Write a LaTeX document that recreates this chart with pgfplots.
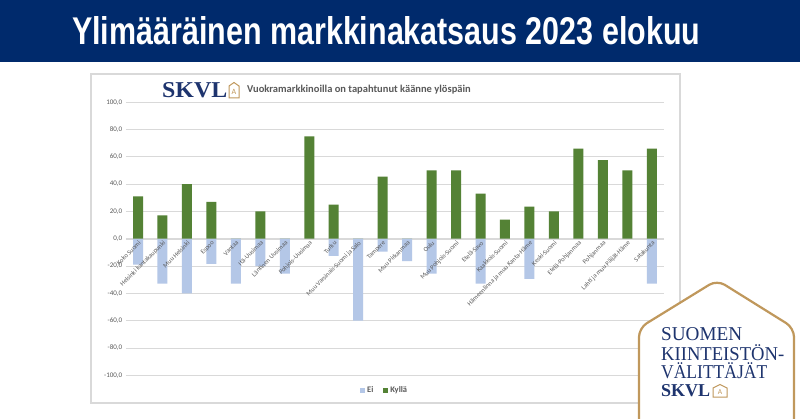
\documentclass[border=0pt]{standalone}
\usepackage{fontspec}
\setmainfont{Carlito}
\newfontfamily\bannerfont{Liberation Sans}
\newfontfamily\seriffont{Liberation Serif}
\usepackage{graphicx}
\usepackage{pgfplots}
\pgfplotsset{compat=1.18}
\definecolor{navy}{RGB}{0,42,108}
\definecolor{logonavy}{RGB}{30,52,110}
\definecolor{tan}{RGB}{192,152,92}
\definecolor{kyl}{RGB}{84,130,53}
\definecolor{ei}{RGB}{180,199,231}
\definecolor{txtgray}{RGB}{89,89,89}
\definecolor{gridgray}{RGB}{217,217,217}

\pgfplotsset{common/.style={
  at={(138pt,179.3pt)}, anchor=origin,
  scale only axis, width=538.25pt, height=273pt,
  xmin=-0.5, xmax=21.5, ymin=-100, ymax=100,
  major tick length=0pt,
}}

\begin{document}
\begin{tikzpicture}[x=1pt,y=1pt]
\useasboundingbox (0,0) rectangle (800,418);
\fill[white] (0,0) rectangle (800,418);
% banner
\fill[navy] (0,356) rectangle (800,418);
\node[anchor=south west, inner sep=0, text=white] at (72,373)
  {\resizebox{628pt}{28pt}{\bannerfont\bfseries Ylimääräinen markkinakatsaus 2023 elokuu}};
% chart frame
\draw[gridgray, line width=1.2pt] (91,15) rectangle (680,344);
% chart logo and title
\node[anchor=south west, inner sep=0, text=logonavy] at (162,320)
  {\resizebox{65pt}{15pt}{\seriffont\bfseries SKVL}};
\draw[tan, line width=1pt] (229,320) -- (229,332) -- (234,335.5) -- (239,332) -- (239,320) -- cycle;
\node[text=tan, inner sep=0, font=\fontsize{8}{9}\selectfont] at (234,326) {A};
\node[anchor=west, inner sep=0, text=txtgray, font=\fontsize{10.5}{12}\selectfont\bfseries] at (247,328)
  {Vuokramarkkinoilla on tapahtunut käänne ylöspäin};

\begin{axis}[
  common,
  axis x line=middle, axis y line=left,
  x axis line style={-, draw=gridgray},
  y axis line style={-, draw=none},
  ybar,
  ytick={-100,-80,-60,-40,-20,0,20,40,60,80,100},
  ymajorgrids, grid style={gridgray, line width=0.6pt},
  xtick=\empty,
  yticklabel style={font=\fontsize{7}{8}\selectfont, text=txtgray},
  /pgf/number format/fixed, /pgf/number format/fixed zerofill,
  /pgf/number format/precision=1, /pgf/number format/use comma,
  /pgf/number format/assume math mode=true,
  legend style={at={(0.481,-0.055)}, anchor=center, draw=none, fill=none,
    legend columns=2, font=\fontsize{8.5}{9}\selectfont\bfseries, text=txtgray,
    /tikz/every even column/.append style={column sep=8pt}},
  legend image code/.code={\fill[#1] (0pt,-2.5pt) rectangle (5pt,2.5pt);},
]
\addplot[fill=ei, draw=none, bar width=10pt, bar shift=0pt] coordinates {
(0,-19) (1,-33) (2,-40) (3,-18.5) (4,-33) (5,-20) (6,-25.5) (7,0) (8,-12.5) (9,-60) (10,-9.5)
(11,-16.5) (12,-25.5) (13,0) (14,-33) (15,0) (16,-29.5) (17,0) (18,0) (19,0) (20,0) (21,-33)};
\addplot[fill=kyl, draw=none, bar width=10pt, bar shift=0pt] coordinates {
(0,31) (1,17) (2,40) (3,27) (4,0) (5,20) (6,0) (7,75) (8,25) (9,0) (10,45.5)
(11,0) (12,50) (13,50) (14,33) (15,14) (16,23.5) (17,20) (18,66) (19,57.5) (20,50) (21,66)};
\legend{Ei, Kyllä}
\end{axis}

% category labels on top of the bars
\begin{axis}[
  common,
  axis x line=middle, axis y line=none,
  x axis line style={draw=none},
  ytick=\empty,
  xtick={0,1,2,3,4,5,6,7,8,9,10,11,12,13,14,15,16,17,18,19,20,21},
  xticklabels={Koko Suomi, Helsinki kantakaupunki, Muu Helsinki, Espoo, Vantaa, Itä-Uusimaa, Läntinen Uusimaa, Pohjois-Uusimaa, Turku, Muu Varsinais-Suomi ja Salo, Tampere, Muu Pirkanmaa, Oulu, Muu Pohjois-Suomi, Etelä-Savo, Kaakkois-Suomi, Hämeenlinna ja muu Kanta-Häme, Keski-Suomi, Etelä-Pohjanmaa, Pohjanmaa, Lahti ja muu Päijät-Häme, Satakunta},
  xticklabel style={rotate=45, anchor=north east, font=\fontsize{6.5}{7}\selectfont, text=txtgray, inner sep=1pt},
]
\end{axis}

% logo
\draw[tan, line width=2.2pt, fill=white, rounded corners=9pt] (639,-5) -- (639,90) -- (717,138) -- (794,90) -- (794,-5);
\node[anchor=base west, inner sep=0, text=logonavy] at (661,78)
  {\resizebox{81pt}{\height}{\fontsize{19.6}{20}\seriffont SUOMEN}};
\node[anchor=base west, inner sep=0, text=logonavy] at (661,58)
  {\resizebox{123pt}{\height}{\fontsize{19.6}{20}\seriffont KIINTEISTÖN-}};
\node[anchor=base west, inner sep=0, text=logonavy] at (661,40)
  {\resizebox{106pt}{\height}{\fontsize{19.6}{20}\seriffont VÄLITTÄJÄT}};
\node[anchor=south west, inner sep=0, text=logonavy] at (661,21)
  {\resizebox{49pt}{12pt}{\seriffont\bfseries SKVL}};
\draw[tan, line width=1pt] (713,21) -- (713,30) -- (720,33.5) -- (727,30) -- (727,21) -- cycle;
\node[text=tan, inner sep=0, font=\fontsize{7.5}{8}\selectfont] at (720,26) {A};
\end{tikzpicture}
\end{document}
